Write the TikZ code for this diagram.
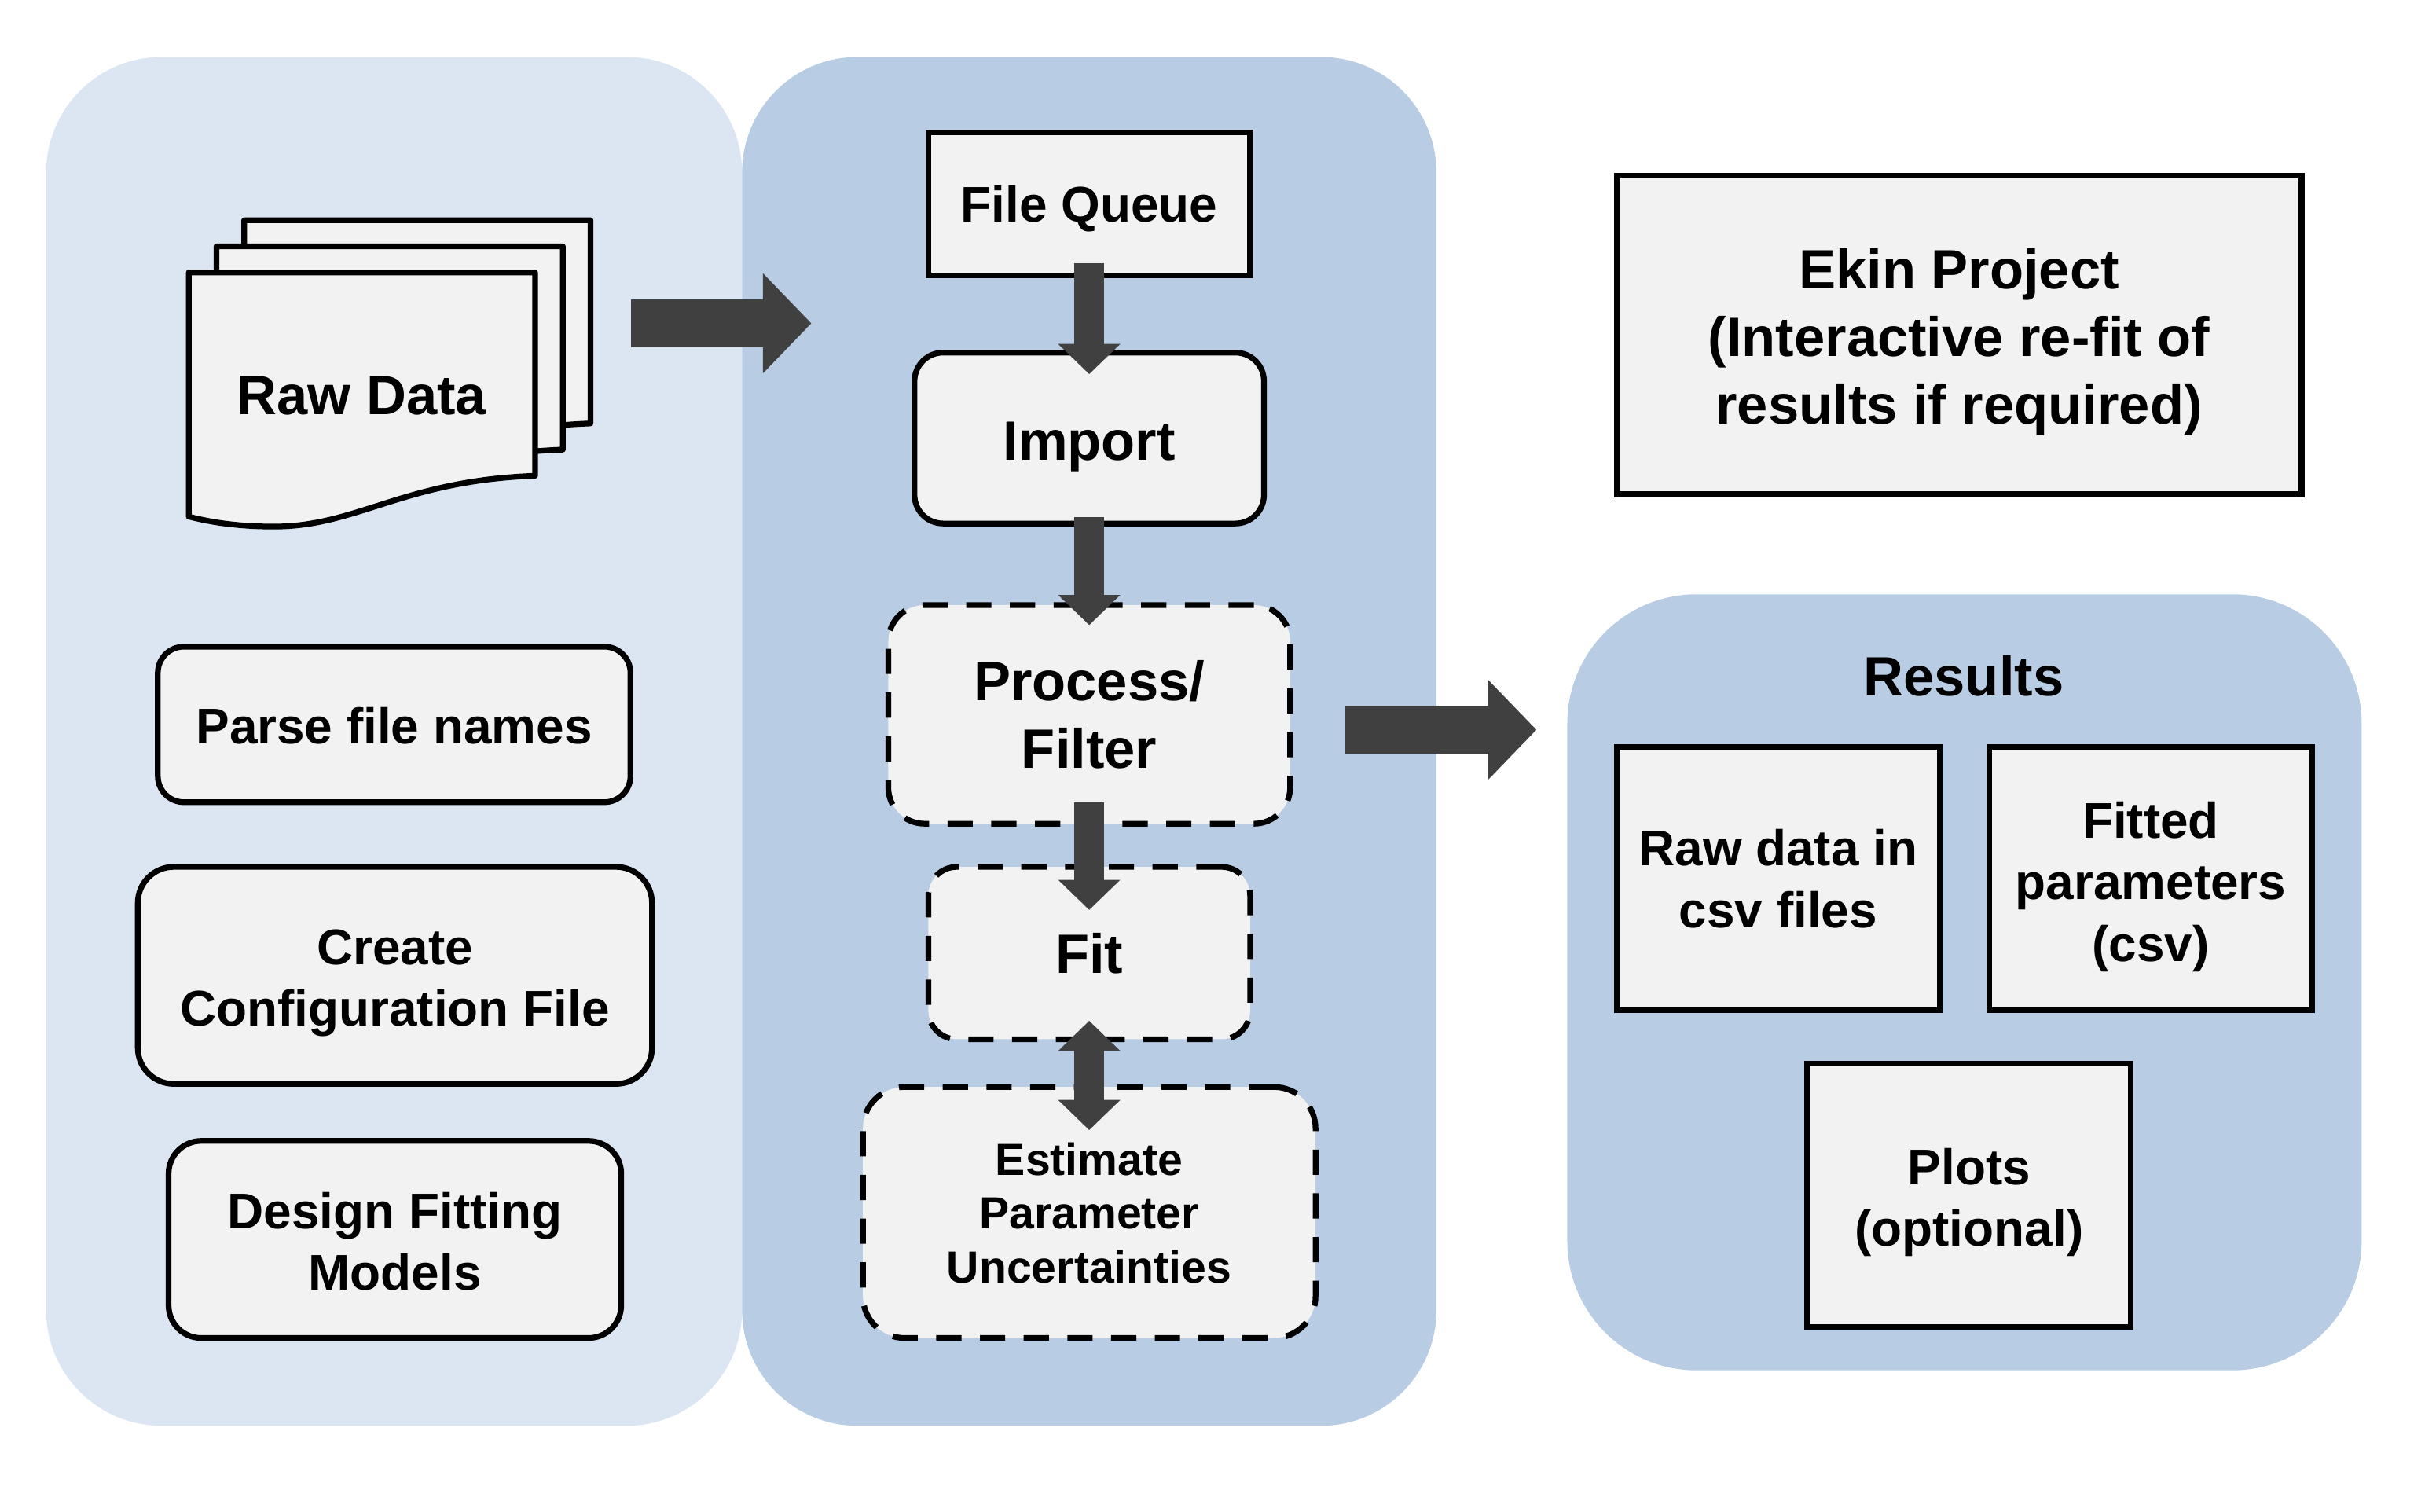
\documentclass[tikz,border=0pt]{standalone}
\usepackage{fontspec}
\setmainfont{Liberation Sans}
\usetikzlibrary{arrows.meta}
\definecolor{panelLight}{HTML}{DCE6F2}
\definecolor{panelDark}{HTML}{B8CCE4}
\definecolor{boxFill}{HTML}{F2F2F2}
\definecolor{arrowGrey}{HTML}{404040}
\begin{document}
\begin{tikzpicture}[x=0.5pt,y=-0.5pt,
    panel/.style={inner sep=0pt,outer sep=0pt},
    plainbox/.style={draw=black,fill=boxFill,line width=1.85pt,inner sep=0pt,outer sep=0pt,
        align=center,font=\fontsize{16.3}{20}\selectfont\bfseries},
    bigtext/.style={font=\fontsize{18}{22}\selectfont\bfseries},
    dashbox/.style={dash pattern=on 8.2pt off 6pt},
    textdown/.style={execute at begin node={\rule{0pt}{#1}}},
    boxsize/.style n args={2}{minimum width=#1,minimum height=#2},
    thinarrow/.style={draw=arrowGrey,line width=9.8pt,
        -{Triangle[length=9.8pt,width=19.6pt]}},
    widearrow/.style={draw=arrowGrey,line width=15.7pt,
        -{Triangle[length=15.7pt,width=31.5pt]}}]
    \useasboundingbox (0,0) rectangle (1568,982);
    \node[panel,fill=panelLight,boxsize={226pt}{444.5pt},rounded corners=37.5pt] (prep) at (256,481.5) {};
    \node[panel,fill=panelDark,boxsize={225.5pt}{444.5pt},rounded corners=37.5pt] (pipe) at (707.5,481.5) {};
    \node[panel,fill=panelDark,boxsize={258pt}{252pt},rounded corners=42pt] (results) at (1276,638) {};
    \foreach \dx/\dy in {36/-34,18/-17,0/0} {
        \draw[draw=black,fill=boxFill,line width=1.85pt,line join=round,shift={(\dx,\dy)}]
            (122.6,177) -- (347.6,177) -- (347.6,309)
            .. controls (262,312) and (232,342) .. (178,342)
            .. controls (158,342) and (140,340) .. (122.6,335.5) -- cycle;
    }
    \node[font=\fontsize{18}{22}\selectfont\bfseries] (rawdata) at (235,257) {Raw Data};
    \node[plainbox,textdown=12.9pt,boxsize={153.5pt}{50.5pt},rounded corners=8.5pt] (parse) at (256,470.5) {Parse file names};
    \node[plainbox,text depth=0pt,text height=32.9pt,boxsize={167pt}{70.5pt},rounded corners=11.7pt] (config) at (256.5,633.5) {Create\\Configuration File};
    \node[plainbox,text depth=0pt,text height=32.9pt,boxsize={147pt}{64pt},rounded corners=10.6pt] (design) at (256.5,805) {Design Fitting\\Models};
    \node[plainbox,textdown=14.9pt,boxsize={104.5pt}{46.5pt}] (queue) at (707.5,132.5) {File Queue};
    \node[plainbox,bigtext,textdown=18.1pt,boxsize={113.5pt}{55.5pt},rounded corners=9.3pt] (import) at (707.5,284.5) {Import};
    \node[plainbox,dashbox,bigtext,boxsize={130.5pt}{71pt},rounded corners=11.8pt] (process) at (707.5,464) {Process/\\Filter};
    \node[plainbox,dashbox,bigtext,boxsize={104.5pt}{56pt},rounded corners=9.3pt] (fit) at (707.5,619) {Fit};
    \node[plainbox,dashbox,text depth=0pt,boxsize={147pt}{81.5pt},rounded corners=13.5pt,
        font=\fontsize{14.6}{17.5}\selectfont\bfseries] (estimate) at (707.5,787.5) {Estimate\\Parameter\\Uncertainties};
    \node[plainbox,bigtext,text depth=0pt,text height=58.1pt,boxsize={222.5pt}{103.5pt}] (ekin) at (1272.5,217.5) {Ekin Project\\(Interactive re-fit of\\results if required)};
    \node[bigtext] (restitle) at (1275.5,439) {Results};
    \node[plainbox,text depth=0pt,boxsize={105pt}{85.5pt}] (rawcsv) at (1155,570.5) {Raw data in\\csv files};
    \node[plainbox,text depth=0pt,text height=53.9pt,boxsize={105pt}{85.5pt}] (fitted) at (1397,570.5) {Fitted\\parameters\\(csv)};
    \node[plainbox,text depth=0pt,text height=32.9pt,boxsize={105pt}{85.5pt}] (plots) at (1279,776.5) {Plots\\(optional)};
    \coordinate (inStart) at (410,210);
    \coordinate (inEnd) at (527,210);
    \coordinate (outStart) at (874,474);
    \coordinate (outEnd) at (998,474);
    \draw[widearrow] (inStart) -- (inEnd);
    \draw[widearrow] (outStart) -- (outEnd);
    \draw[thinarrow,shorten <=-4pt,shorten >=-7pt] (queue) -- (import);
    \draw[thinarrow,shorten <=-2pt,shorten >=-6.5pt] (import) -- (process);
    \draw[thinarrow,shorten <=-7pt,shorten >=-14pt] (process) -- (fit);
    \draw[draw=arrowGrey,line width=9.8pt,{Triangle[length=9.8pt,width=19.6pt]}-{Triangle[length=9.8pt,width=19.6pt]},
        shorten <=-6pt,shorten >=-14pt] (fit) -- (estimate);
\end{tikzpicture}
\end{document}
